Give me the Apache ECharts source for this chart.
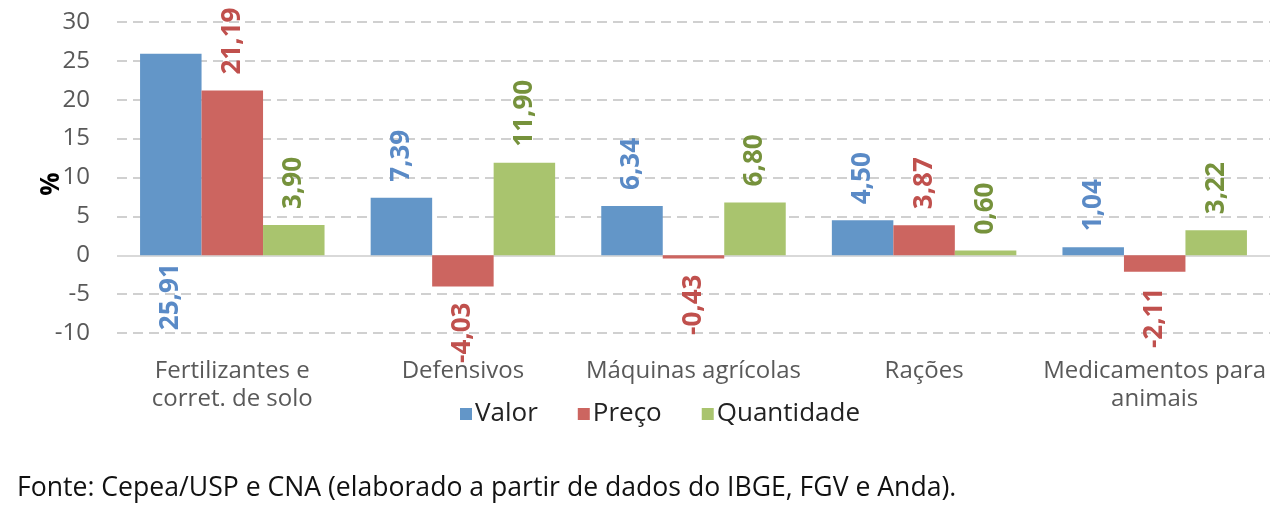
<!DOCTYPE html>
<html>
<head>
<meta charset="utf-8">
<script src="https://cdn.jsdelivr.net/npm/echarts@6/dist/echarts.min.js"></script>
<style>
html,body{margin:0;padding:0;background:#fff;}
#chart{width:1283px;height:506px;}
</style>
</head>
<body>
<div id="chart"></div>
<script>
const categories = ["Fertilizantes e\ncorret. de solo", "Defensivos", "Máquinas agrícolas", "Rações", "Medicamentos para\nanimais"];
const valor = [25.91, 7.39, 6.34, 4.50, 1.04];
const preco = [21.19, -4.03, -0.43, 3.87, -2.11];
const quantidade = [3.90, 11.90, 6.80, 0.60, 3.22];
const seriesNames = ["Valor", "Preço", "Quantidade"];
const yTicks = { min: -10, max: 30, interval: 5 };
const yTitle = "%";
const footer = "Fonte: Cepea/USP e CNA (elaborado a partir de dados do IBGE, FGV e Anda).";

const FONT = "Open Sans";
const barColors = ["#6396c8", "#cc6560", "#a9c46e"];
const labelColors = ["#5a8ac6", "#c0504d", "#76923c"];

function fmt(v){ return v.toFixed(2).replace('.', ','); }

function buildData(values){
  return values.map(v => {
    const flipped = v > yTicks.max - 5;
    const below = v < 0 || flipped;
    return {
      value: v,
      label: {
        position: below ? 'bottom' : 'top',
        align: below ? 'right' : 'left',
        distance: flipped ? 8 : 16
      }
    };
  });
}

function makeSeries(name, values, idx){
  return {
    name: name,
    type: 'bar',
    barGap: '0%',
    barCategoryGap: '20%',
    itemStyle: { color: barColors[idx] },
    data: buildData(values),
    label: {
      show: true,
      rotate: 90,
      verticalAlign: 'middle',
      color: labelColors[idx],
      fontFamily: FONT,
      fontWeight: 'bold',
      fontSize: 26,
      formatter: p => fmt(p.value)
    }
  };
}

const series = [
  makeSeries(seriesNames[0], valor, 0),
  makeSeries(seriesNames[1], preco, 1),
  makeSeries(seriesNames[2], quantidade, 2)
];
series[0].markLine = {
  silent: true,
  symbol: 'none',
  label: { show: false },
  lineStyle: { color: '#d9d9d9', type: 'solid', width: 2 },
  data: [{ yAxis: 0 }],
  z: 1
};

const chart = echarts.init(document.getElementById('chart'), null, { renderer: 'canvas' });
chart.setOption({
  animation: false,
  backgroundColor: '#fff',
  textStyle: { fontFamily: FONT },
  grid: { left: 117, right: 13, top: 22, bottom: 173, containLabel: false },
  title: {
    text: footer,
    left: 12,
    top: 470,
    textStyle: { fontFamily: FONT, fontSize: 26.6, fontWeight: 'normal', color: '#111' }
  },
  graphic: [{
    type: 'text',
    x: 52,
    y: 184,
    rotation: Math.PI / 2,
    style: {
      text: yTitle,
      fontFamily: FONT,
      fontSize: 26,
      fontWeight: 'bold',
      fill: '#000',
      align: 'center',
      verticalAlign: 'middle'
    }
  }],
  legend: {
    data: seriesNames,
    left: 455,
    top: 396,
    icon: 'rect',
    itemWidth: 12,
    itemHeight: 12,
    itemGap: 40,
    textStyle: { fontFamily: FONT, fontSize: 26, color: '#222', padding: [0, 0, 0, -2] }
  },
  xAxis: {
    type: 'category',
    data: categories,
    axisLine: { show: false, onZero: false },
    axisTick: { show: false },
    axisLabel: {
      interval: 0,
      margin: 24,
      fontFamily: FONT,
      fontSize: 24,
      lineHeight: 28,
      color: '#595959'
    }
  },
  yAxis: {
    type: 'value',
    min: yTicks.min,
    max: yTicks.max,
    interval: yTicks.interval,
    axisLine: { show: false },
    axisTick: { show: false },
    axisLabel: { fontFamily: FONT, fontSize: 24, color: '#595959', margin: 27 },
    splitLine: { lineStyle: { color: '#d0d0d0', type: [10, 6], width: 2 } }
  },
  series: series
});
</script>
</body>
</html>
